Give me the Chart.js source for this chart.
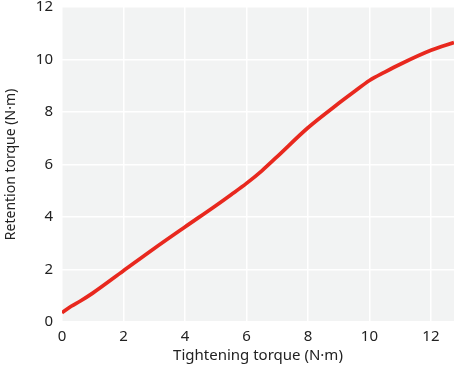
<!DOCTYPE html>
<html>
<head>
<meta charset="utf-8">
<script src="https://cdn.jsdelivr.net/npm/chart.js@4"></script>
<style>
  html, body { margin: 0; padding: 0; background: #fff; }
  #wrap { width: 454px; height: 365px; position: relative; }
</style>
</head>
<body>
<div id="wrap"><canvas id="myChart"></canvas></div>
<script>
// 資料
const tightening = [0, 0.3, 0.6, 1, 2, 3, 4, 5, 5.5, 6, 6.5, 7, 8, 9, 9.5, 10, 10.5, 11, 12, 12.75];
const retention = [0.35, 0.6, 0.8, 1.1, 1.95, 2.8, 3.62, 4.43, 4.85, 5.28, 5.76, 6.3, 7.4, 8.33, 8.77, 9.2, 9.52, 9.82, 10.35, 10.65];
const xTicks = [0, 2, 4, 6, 8, 10, 12];
const yTicks = [0, 2, 4, 6, 8, 10, 12];

const points = tightening.map((x, i) => ({ x: x, y: retention[i] }));

// 繪圖區背景
const plotBg = {
    id: 'plotBg',
    beforeDraw(chart) {
        const a = chart.chartArea;
        const c = chart.ctx;
        c.save();
        c.fillStyle = '#f2f3f3';
        c.fillRect(a.left, a.top, a.right - a.left, a.bottom - a.top);
        c.restore();
    }
};

const font = "'Noto Sans', sans-serif";

var ctx = document.getElementById('myChart').getContext('2d');
var myChart = new Chart(ctx, {
    type: 'line',
    data: {
        datasets: [{
            data: points,
            borderColor: '#e8281e',
            borderWidth: 3.7,
            pointRadius: 0,
            cubicInterpolationMode: 'monotone',
            fill: false
        }]
    },
    options: {
        responsive: true,
        maintainAspectRatio: false,
        animation: false,
        layout: { padding: { top: 0, right: 0, left: 3, bottom: 0 } },
        plugins: {
            legend: { display: false },
            tooltip: { enabled: false }
        },
        scales: {
            x: {
                type: 'linear',
                min: 0,
                max: 12.75,
                afterBuildTicks: axis => { axis.ticks = xTicks.map(v => ({ value: v })); },
                ticks: { color: '#222', font: { family: font, size: 15 }, padding: 6, maxRotation: 0 },
                grid: { color: '#ffffff', lineWidth: 1.5, drawTicks: false },
                border: { display: false },
                title: { display: true, text: 'Tightening torque (N·m)', color: '#222', font: { family: font, size: 15 }, padding: { top: -5, bottom: 0 } }
            },
            y: {
                min: 0,
                max: 12,
                afterBuildTicks: axis => { axis.ticks = yTicks.map(v => ({ value: v })); },
                afterFit: axis => { axis.paddingTop = 7; },
                ticks: { color: '#222', font: { family: font, size: 15 }, padding: 9 },
                grid: { color: '#ffffff', lineWidth: 1.5, drawTicks: false },
                border: { display: false },
                title: { display: true, text: 'Retention torque (N·m)', color: '#222', font: { family: font, size: 14 }, padding: { top: 0, bottom: 7 } }
            }
        }
    },
    plugins: [plotBg]
});
</script>
</body>
</html>
